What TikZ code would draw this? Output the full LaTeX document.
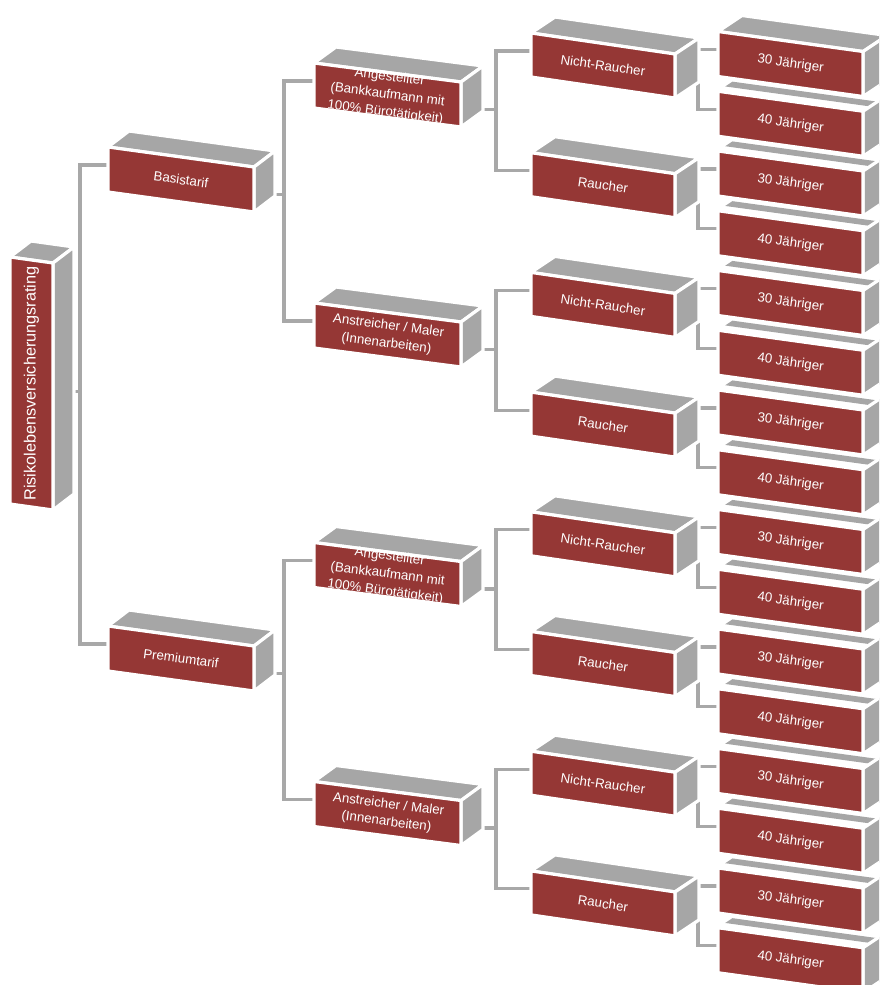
\documentclass[tikz,border=0pt]{standalone}
\usepackage{fontspec}
\setmainfont{Liberation Sans}
\usetikzlibrary{calc}
\pgfdeclarelayer{bg}
\pgfsetlayers{bg,main}
\definecolor{boxred}{HTML}{953735}
\definecolor{boxgray}{HTML}{A6A6A6}
\definecolor{linegray}{HTML}{A8A8A8}
\tikzset{
  frontface/.style={fill=boxred, draw=white, line width=2.4pt, line join=miter},
  sideface/.style={fill=boxgray, draw=white, line width=2.4pt, line join=miter},
  slivface/.style={fill=boxgray},
  boxtext/.style={text=white, align=center, inner sep=0pt, font=\fontsize{10}{13.2}\selectfont},
  conn/.style={draw=linegray, line width=2.3pt, line join=miter}
}
\def\dX{21}
\def\dY{16}
% #1 name #2 x #3 y #4 w #5 h #6 slope #7 text #8 rotation #9 top mode (0 full, 1 sliver)
\newcommand\rbox[9]{%
  \ifnum#9=0
    \filldraw[sideface] (#2,#3) -- ++(\dX,-\dY) -- ++(#4,#6) -- ++(-\dX,\dY) -- cycle;
  \else
    \fill[slivface] (#2+0.3*\dX,#3-0.3*\dY) -- ++(#4,#6) -- ++(0.3*\dX,-0.3*\dY) -- ++(-#4,-#6) -- cycle;
  \fi
  \filldraw[sideface] (#2+#4,#3+#6) -- ++(\dX,-\dY) -- ++(0,#5) -- ++(-\dX,\dY) -- cycle;
  \filldraw[frontface] (#2,#3) -- ++(#4,#6) -- ++(0,#5) -- ++(-#4,-#6) -- cycle;
  \node[boxtext, rotate=#8] (#1) at (#2+#4/2, #3+#6/2+#5/2) {#7};
  \coordinate (#1-in) at (#2, #3+18);
  \coordinate (#1-out) at (#2+#4+\dX/2, #3+#6+#5/2+5);
}
% #1 parent #2 child1 #3 child2 #4 bus x
\newcommand\conn[4]{%
  \coordinate (#1-bx) at (#4,0);
  \coordinate (#1-bus) at (#1-out -| #1-bx);
  \draw[conn] (#2-in) -| (#1-bus) |- (#3-in);
  \draw[conn] (#1-out) -- (#1-bus);
}
\begin{document}
\begin{tikzpicture}[x=0.75pt,y=-0.75pt]
\useasboundingbox (0,0) rectangle (879,985);
\clip (0,0) rectangle (879,985);
% level 0
\rbox{root}{10}{257}{43}{247}{6}{\fontsize{12.2}{14}\selectfont Risikolebensversicherungsrating}{90}{0}
% level 1
\rbox{basis}{108}{147}{146}{45}{20}{Basistarif}{-7.8}{0}
\rbox{premium}{108}{626}{146}{45}{20}{Premiumtarif}{-7.8}{0}
% level 2
\def\dX{22}
\rbox{b0}{314}{63}{147}{45}{19}{Angestellter\\(Bankkaufmann mit\\100\% Bürotätigkeit)}{-7.4}{0}
\rbox{b1}{314}{303}{147}{45}{19}{Anstreicher / Maler\\(Innenarbeiten)}{-7.4}{0}
\rbox{b2}{314}{542.5}{147}{45}{19}{Angestellter\\(Bankkaufmann mit\\100\% Bürotätigkeit)}{-7.4}{0}
\rbox{b3}{314}{781.5}{147}{45}{19}{Anstreicher / Maler\\(Innenarbeiten)}{-7.4}{0}
% level 3
\def\dX{24}
\foreach \k in {0,...,7}{%
  \pgfmathsetmacro\yy{33+119.7*\k}%
  \pgfmathtruncatemacro\odd{mod(\k,2)}%
  \ifnum\odd=0 \def\ctext{Nicht-Raucher}\else\def\ctext{Raucher}\fi
  \rbox{c\k}{531}{\yy}{144}{44}{21}{\ctext}{-8.3}{0}
}
% level 4
\foreach \k in {0,...,15}{%
  \pgfmathsetmacro\yy{31.5+59.75*\k}%
  \pgfmathtruncatemacro\odd{mod(\k,2)}%
  \pgfmathtruncatemacro\mode{min(\k,1)}%
  \ifnum\odd=0 \def\ctext{30 Jähriger}\else\def\ctext{40 Jähriger}\fi
  \rbox{d\k}{718}{\yy}{145}{45}{20}{\ctext}{-7.9}{\mode}
}
\begin{pgfonlayer}{bg}
\conn{root}{basis}{premium}{80}
\conn{basis}{b0}{b1}{284}
\conn{premium}{b2}{b3}{284}
\conn{b0}{c0}{c1}{496}
\conn{b1}{c2}{c3}{496}
\conn{b2}{c4}{c5}{496}
\conn{b3}{c6}{c7}{496}
\conn{c0}{d0}{d1}{698}
\conn{c1}{d2}{d3}{698}
\conn{c2}{d4}{d5}{698}
\conn{c3}{d6}{d7}{698}
\conn{c4}{d8}{d9}{698}
\conn{c5}{d10}{d11}{698}
\conn{c6}{d12}{d13}{698}
\conn{c7}{d14}{d15}{698}
\end{pgfonlayer}
\end{tikzpicture}
\end{document}
